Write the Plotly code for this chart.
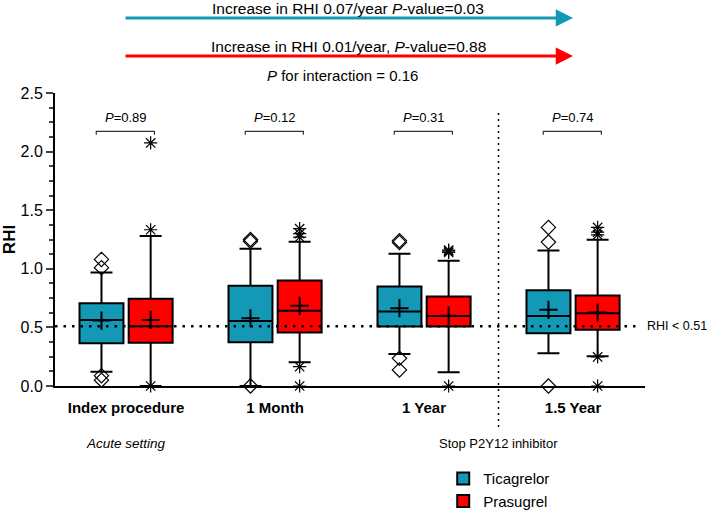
"""RHI box plot, Ticagrelor vs Prasugrel over time"""

import plotly.graph_objects as go

groups = ['Index procedure', '1 Month', '1 Year', '1.5 Year']
p_values = ['0.89', '0.12', '0.31', '0.74']

# Ticagrelor box statistics
tica_q1 = [0.365, 0.373, 0.507, 0.450]
tica_median = [0.564, 0.555, 0.635, 0.598]
tica_q3 = [0.707, 0.855, 0.849, 0.817]
tica_low = [0.122, 0.0, 0.274, 0.279]
tica_high = [0.968, 1.171, 1.128, 1.157]
tica_mean = [0.558, 0.578, 0.664, 0.650]
tica_outliers = [[0.05, 0.088, 1.01, 1.08],
                 [0.0, 1.235, 1.25],
                 [0.137, 0.236, 1.225, 1.24],
                 [0.0, 1.228, 1.353]]

# Prasugrel box statistics
pras_q1 = [0.370, 0.456, 0.507, 0.479]
pras_median = [0.510, 0.641, 0.598, 0.621]
pras_q3 = [0.744, 0.900, 0.763, 0.772]
pras_low = [0.0, 0.203, 0.117, 0.253]
pras_high = [1.280, 1.231, 1.068, 1.248]
pras_mean = [0.564, 0.684, 0.600, 0.627]
pras_outliers = [[0.0, 1.333, 2.074],
                 [0.0, 0.165, 1.27, 1.30, 1.342],
                 [0.0, 1.139, 1.15, 1.16],
                 [0.0, 0.248, 1.29, 1.313, 1.353]]

threshold = 0.51

TEAL = '#1399b5'
RED = '#ff0000'
FONT = 'Arial, Liberation Sans, sans-serif'

offset = 0.165
box_w = 0.295
x_min, x_max = -0.477, 3.483
tica_x = [i - offset for i in range(len(groups))]
pras_x = [i + offset for i in range(len(groups))]

fig = go.Figure()

fig.add_trace(go.Box(
    name='Ticagrelor', x=tica_x, q1=tica_q1, median=tica_median, q3=tica_q3,
    lowerfence=tica_low, upperfence=tica_high, width=box_w, whiskerwidth=0.5,
    fillcolor=TEAL, line=dict(color='black', width=2), hoverinfo='skip'
))
fig.add_trace(go.Box(
    name='Prasugrel', x=pras_x, q1=pras_q1, median=pras_median, q3=pras_q3,
    lowerfence=pras_low, upperfence=pras_high, width=box_w, whiskerwidth=0.5,
    fillcolor=RED, line=dict(color='black', width=2), hoverinfo='skip'
))

# Means
for xs, means in [(tica_x, tica_mean), (pras_x, pras_mean)]:
    fig.add_trace(go.Scatter(
        x=xs, y=means, mode='markers', showlegend=False, hoverinfo='skip',
        marker=dict(symbol='cross-thin', size=13, line=dict(width=2, color='black'))
    ))

# Outliers
for xs, outs, sym in [(tica_x, tica_outliers, 'diamond-open'),
                      (pras_x, pras_outliers, 'asterisk-open')]:
    ox, oy = [], []
    for x, vals in zip(xs, outs):
        ox += [x] * len(vals)
        oy += vals
    fig.add_trace(go.Scatter(
        x=ox, y=oy, mode='markers', showlegend=False, hoverinfo='skip',
        cliponaxis=False,
        marker=dict(symbol=sym, size=11, color='black', line=dict(width=1.2, color='black'))
    ))

# Threshold line
fig.add_shape(type='line', xref='x', yref='y', x0=x_min, x1=3.43,
              y0=threshold, y1=threshold,
              line=dict(color='black', width=2.5, dash='2.5px,6px'))
fig.add_annotation(x=1.0, xref='paper', y=threshold, yref='y', text='RHI < 0.51',
                   showarrow=False, xanchor='left', font=dict(size=12.5))

# Vertical separator (stop P2Y12 inhibitor)
sep_x = (2.5 - x_min) / (x_max - x_min)
fig.add_shape(type='line', xref='paper', yref='paper', x0=sep_x, x1=sep_x,
              y0=-0.14, y1=0.935, line=dict(color='black', width=1.5, dash='2px,4px'))

# P-value brackets
for i, p in enumerate(p_values):
    x0, x1, yb = i - 0.2, i + 0.19, 2.173
    fig.add_shape(type='path', xref='x', yref='y',
                  path=f'M{x0},{yb - 0.03} L{x0},{yb} L{x1},{yb} L{x1},{yb - 0.03}',
                  line=dict(color='#333333', width=1.2))
    fig.add_annotation(x=i, y=2.29, xref='x', yref='y', showarrow=False,
                       text=f'<i>P</i>=' + p, font=dict(size=13))

# Bottom notes
fig.add_annotation(x=0, y=-0.195, xref='x', yref='paper', showarrow=False, yanchor='middle',
                   text='<i>Acute setting</i>', font=dict(size=13.5))
fig.add_annotation(x=2.5, y=-0.195, xref='x', yref='paper', showarrow=False, yanchor='middle',
                   text='Stop P2Y12 inhibitor', font=dict(size=13))

# Top trend arrows
for y_txt, y_arr, color, txt in [
        (1.290, 1.256, TEAL, 'Increase in RHI 0.07/year <i>P</i>-value=0.03'),
        (1.160, 1.126, RED, 'Increase in RHI 0.01/year, <i>P</i>-value=0.88')]:
    fig.add_annotation(x=0.878, y=y_arr, xref='paper', yref='paper', text='',
                       showarrow=True, ax=-449, ay=0, arrowhead=2, arrowsize=1.15,
                       arrowwidth=3, arrowcolor=color)
    fig.add_annotation(x=0.497, y=y_txt, xref='paper', yref='paper', showarrow=False,
                       yanchor='middle', text=txt, font=dict(size=15.5))
fig.add_annotation(x=0.487, y=1.061, xref='paper', yref='paper', showarrow=False,
                   yanchor='middle', text='<i>P</i> for interaction = 0.16', font=dict(size=15))

fig.update_layout(
    width=709, height=512,
    margin=dict(l=55, r=64, t=93, b=126, autoexpand=False),
    plot_bgcolor='white', paper_bgcolor='white',
    font=dict(family=FONT, color='black', size=14),
    boxmode='overlay',
    legend=dict(x=0.658, y=-0.26, xanchor='left', yanchor='top',
                font=dict(size=15), tracegroupgap=0),
)
fig.update_xaxes(
    range=[x_min, x_max], showgrid=False, zeroline=False, automargin=False,
    showline=True, linecolor='black', linewidth=2,
    tickvals=list(range(len(groups))), ticktext=[f'<b>{g}</b>' for g in groups],
    ticks='', tickfont=dict(size=15), ticklabelstandoff=7
)
fig.update_yaxes(
    range=[0, 2.5], showgrid=False, zeroline=False, automargin=False,
    showline=True, linecolor='black', linewidth=2,
    dtick=0.5, tickformat='.1f', ticks='outside', ticklen=7, tickwidth=2,
    tickfont=dict(size=16),
    minor=dict(dtick=0.125, ticks='outside', ticklen=4, tickwidth=1.5),
    title=dict(text='<b>RHI</b>', font=dict(size=17), standoff=8)
)

# page body has a default 8px margin; drop it so the figure fills the window
fig.write_html('out.html', config={'displayModeBar': False},
               post_script="document.body.style.margin='0';")
